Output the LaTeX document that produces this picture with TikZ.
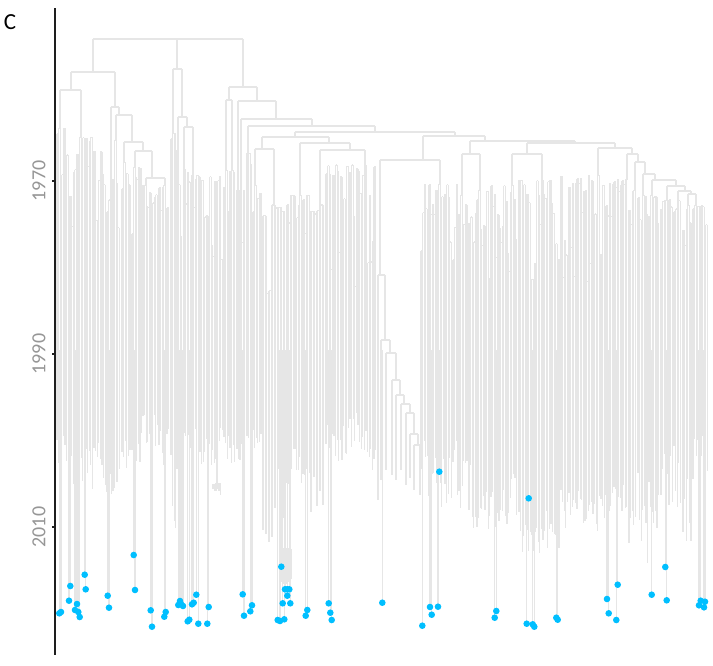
\documentclass[tikz,border=0pt]{standalone}
\usepackage{fontspec}
\setmainfont{Carlito}
\definecolor{treegray}{RGB}{230,230,230}
\definecolor{tipblue}{RGB}{0,191,255}
\definecolor{ticktext}{RGB}{150,150,150}
\definecolor{axisdark}{RGB}{30,30,30}

% a dense clade: leaves from #1 to #2, root depth #3 hung at x=#4 from depth #9,
% tips between #5 and #6, leaf spacing #7, spread of inner nodes #8
\newcommand{\bundle}[9]{%
  \pgfmathtruncatemacro{\bn}{(#2-#1)/#7}%
  \pgfmathtruncatemacro{\bc}{min(max(floor((#4-#1)/#7),0),\bn-1)}%
  \pgfmathsetmacro{\tp}{(#5+#6)/2}%
  \xdef\tprev{\tp}\xdef\dprev{9999}%
  \draw[branch] (#4,#9) -- (#4,#3);
  \foreach \i in {0,...,\bn}{%
    \pgfmathsetmacro{\bx}{#1+\i*#7}%
    \pgfmathsetmacro{\bd}{\i==\bn ? 9999 : (\i==\bc ? #3 : #3+1.8*#8*pow(rnd,2))}%
    \pgfmathsetmacro{\btop}{min(\dprev,\bd)}%
    \pgfmathsetmacro{\btop}{\btop>5000 ? #3 : \btop}%
    \pgfmathsetmacro{\btip}{0.3*\tprev+0.7*(#5+(#6-#5)*rnd)}%
    \draw[branch] (\bx,\btop) -- (\bx,\btip);
    \ifnum\i<\bn \draw[branch] (\bx,\bd) -- ({\bx+#7},\bd);\fi
    \xdef\dprev{\bd}\xdef\tprev{\btip}%
  }%
}

\begin{document}
\begin{tikzpicture}[
    x=1pt,y=-1pt,
    branch/.style={draw=treegray,line width=1.15pt,line cap=square},
    axisline/.style={draw=axisdark,line width=2pt},
    ticklabel/.style={text=ticktext,font=\fontsize{20}{24}\selectfont,rotate=90,inner sep=0pt},
    panel/.style={text=black,font=\fontsize{23}{27}\selectfont,inner sep=0pt},
    tipdot/.style={circle,fill=tipblue,inner sep=0pt,minimum size=6.6pt},
]
    \useasboundingbox (0,0) rectangle (713,665);
    \pgfmathsetseed{4127}

    % backbone of the tree
    \foreach \x/\ya/\yb/\xl/\xr in {
        168/39/39/93/243,
        93/39/72/71/115, 71/72/90/60/81, 115/72/107/111/119,
        119/107/115/116/132, 132/115/142/124/143, 143/142/151/135/152,
        152/151/178/146/165,
        177/39/69/173/182, 182/69/117/178/187, 187/117/127/184/193,
        243/39/87/229/257, 229/87/100/226/232, 257/87/101/238/276,
        276/101/119/241/312, 312/119/126/248/375, 375/126/132/295/455,
        295/132/137/262/329, 262/137/149/255/274, 329/137/143/300/350,
        350/143/150/320/365, 455/132/136/423/485, 423/136/160/380/440,
        485/136/141/470/575, 470/141/154/462/480, 575/141/143/527/615,
        527/143/154/512/542, 615/143/148/598/632, 632/148/154/627/638,
        638/154/162/635/645, 645/162/174/643/655, 655/174/180/652/676,
        676/180/186/667/685, 685/186/191/678/691, 691/191/194/688/696}
        {\draw[branch] (\x,\ya) -- (\x,\yb) (\xl,\yb) -- (\xr,\yb);}

    % dense clades
    \bundle{57}{69}{128}{60}{420}{500}{1.6}{60}{90}
    \bundle{70}{106}{137}{81}{430}{500}{1.6}{60}{90}
    \bundle{107}{112}{200}{111}{450}{530}{1.6}{40}{107}
    \bundle{113}{121}{140}{116}{440}{500}{1.6}{50}{115}
    \bundle{122}{131}{162}{124}{430}{490}{1.6}{40}{142}
    \bundle{132}{142}{167}{135}{420}{480}{1.6}{40}{151}
    \bundle{143}{158}{185}{146}{400}{470}{1.6}{40}{178}
    \bundle{159}{170}{185}{165}{420}{480}{1.6}{40}{178}
    \bundle{171}{176}{133}{173}{420}{540}{1.6}{60}{69}
    \bundle{177}{183}{150}{178}{430}{500}{1.6}{50}{117}
    \bundle{184}{191}{170}{184}{420}{490}{1.6}{40}{127}
    \bundle{192}{223}{175}{193}{420}{480}{1.6}{50}{127}
    \bundle{213}{221}{483}{217}{488}{497}{1.5}{4}{440}
    \bundle{224}{229}{170}{226}{420}{470}{1.6}{30}{100}
    \bundle{230}{236}{170}{232}{420}{470}{1.6}{30}{100}
    \bundle{237}{239}{190}{238}{440}{470}{1.6}{20}{101}
    \bundle{240}{246}{190}{241}{430}{470}{1.6}{30}{119}
    \bundle{247}{252}{153}{248}{420}{470}{1.6}{40}{126}
    \bundle{253}{262}{185}{255}{420}{460}{1.6}{40}{149}
    \bundle{263}{286}{205}{274}{440}{560}{3}{60}{149}
    \bundle{280}{292}{548}{282}{575}{590}{1.6}{10}{430}
    \bundle{287}{310}{195}{300}{440}{500}{1.6}{50}{143}
    \bundle{311}{325}{205}{320}{450}{560}{3}{50}{150}
    \bundle{326}{376}{165}{365}{400}{480}{1.6}{70}{150}
    \bundle{421}{458}{184}{440}{420}{520}{1.6}{50}{160}
    \bundle{459}{468}{195}{462}{430}{530}{1.6}{40}{154}
    \bundle{469}{490}{190}{480}{440}{550}{1.6}{50}{154}
    \bundle{491}{518}{185}{512}{470}{560}{1.6}{50}{154}
    \bundle{519}{560}{180}{542}{500}{565}{1.6}{60}{154}
    \bundle{561}{605}{175}{598}{480}{540}{1.6}{60}{148}
    \bundle{606}{628}{180}{627}{470}{520}{1.6}{50}{154}
    \bundle{629}{637}{190}{635}{480}{560}{1.6}{30}{162}
    \bundle{638}{648}{195}{643}{450}{600}{1.6}{30}{174}
    \bundle{649}{660}{195}{652}{450}{540}{1.6}{30}{180}
    \bundle{661}{673}{200}{667}{430}{560}{1.6}{30}{186}
    \bundle{674}{682}{200}{678}{420}{520}{1.6}{30}{191}
    \bundle{683}{692}{205}{688}{430}{560}{1.6}{30}{194}
    \bundle{693}{708}{205}{696}{420}{520}{1.6}{30}{194}

    % ladder clade in the middle
    \draw[branch] (380,160) -- (380,275);
    \foreach \xa/\xb/\yy/\yn/\ta in {378/385/275/340/500, 381/390/340/353/480,
        386/396/353/380/470, 392/400/380/395/475, 396/404/395/404/480,
        401/410/404/413/470, 406/414/413/434/485, 410/418/434/445/478,
        414/420/445/495/490}
        {\draw[branch] (\xa,\yy) -- (\xb,\yy) (\xa,\yy) -- (\xa,\ta) (\xb,\yy) -- (\xb,\yn);}

    % sampled tips
    \def\tiplist{59.3/613.3, 61/612, 70.3/586, 69/600.7, 84.7/574.7, 85.7/589.3,
        77/604, 75/610, 78.3/612, 79.7/617, 107.7/595.7, 109/607.7, 133.7/555,
        135/590, 150.7/610.3, 152/626.7, 164.3/616.7, 165.7/612, 178.3/605,
        180/601, 181/604, 183/606, 187.7/621.3, 189.3/619.7, 192/604.3,
        193.7/602.7, 196.3/594.7, 198.3/623.7, 207.3/623.7, 208.7/607,
        242.7/594.3, 244/615.7, 250.3/611.3, 252/605.3, 281.3/566.7,
        282.7/603.3, 277.7/620, 280/621, 284.3/619.3, 285/589.3, 287.3/589.3,
        289.3/589.3, 287.3/595.7, 290.3/603.3, 305.7/615.7, 307.3/610,
        328.7/603.3, 330.3/612.7, 331.7/620, 382.3/602.7, 439.3/471.7,
        422.3/625.7, 430/607, 431.7/614.7, 438/606.7, 496.3/611, 494.7/617.7,
        528.7/498.3, 526.7/623.7, 532.7/624.3, 534.3/626.7, 556.3/617.7,
        557.7/619.7, 607/599, 608.7/613.3, 617.7/584.7, 616.3/620, 651.7/594.7,
        665.3/567, 666.7/600.3, 700.7/600.7, 705/601.7, 699/605.3, 704/607.3}
    \foreach \x/\y in \tiplist {\draw[branch] (\x,350) -- (\x,\y);}
    \foreach \x/\y [count=\k] in \tiplist {\node[tipdot] (tip\k) at (\x,\y) {};}

    % time axis
    \draw[axisline] (55,8) -- (55,655);
    \foreach \yr/\y in {1970/181, 1990/354, 2010/527} {
        \draw[axisline] (52,\y) -- (55,\y);
        \node[ticklabel] (yr\yr) at (39,\y) {\yr};
    }
    \node[panel] (panelC) at (10,22) {C};
\end{tikzpicture}
\end{document}
